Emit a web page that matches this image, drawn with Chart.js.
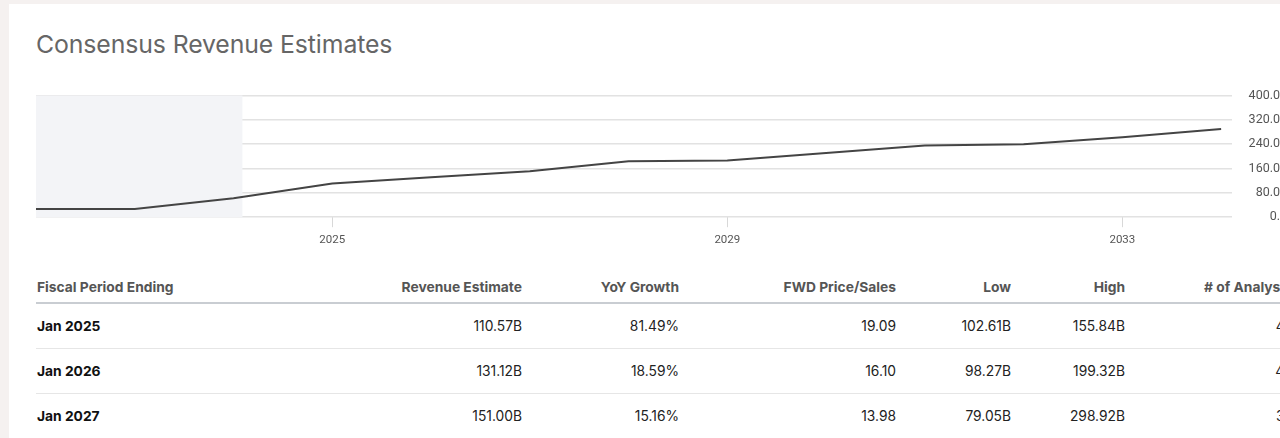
<!DOCTYPE html>
<html>
<head>
<meta charset="utf-8">
<script src="https://cdn.jsdelivr.net/npm/chart.js@4.4.1/dist/chart.umd.min.js"></script>
<style>
  html, body { margin: 0; padding: 0; }
  body { width: 1280px; height: 438px; overflow: hidden; background: #f5f1f0; position: relative; font-family: Inter, Roboto, "Liberation Sans", sans-serif; }
  #panel { position: absolute; left: 9px; top: 4px; width: 1400px; height: 460px; background: #fff; }
  #title { position: absolute; left: 36px; top: 29px; font-size: 24.8px; color: #666; font-weight: 400; letter-spacing: -0.1px; white-space: nowrap; }
  #chartWrap { position: absolute; left: 36px; top: 88px; width: 1244px; height: 165px; }
  table { position: absolute; left: 36px; top: 271px; border-collapse: collapse; table-layout: fixed; width: 1257px; }
  th, td { padding: 0; white-space: nowrap; font-size: 13.8px; }
  th { height: 31px; color: #555; font-weight: 700; border-bottom: 2px solid #c9cdd2; text-align: right; vertical-align: middle; }
  td { height: 44px; color: #222; border-bottom: 1px solid #e6e6e6; text-align: right; vertical-align: middle; }
  th:first-child, td:first-child { text-align: left; padding-left: 1px; }
  td:first-child { font-weight: 700; color: #111; }
</style>
</head>
<body>
<div id="panel"></div>
<div id="title">Consensus Revenue Estimates</div>
<div id="chartWrap"><canvas id="c"></canvas></div>
<table id="tbl">
  <colgroup>
    <col style="width:264px"><col style="width:222px"><col style="width:157px"><col style="width:217px"><col style="width:115px"><col style="width:114px"><col style="width:168px">
  </colgroup>
  <thead><tr id="hdr"></tr></thead>
  <tbody id="body"></tbody>
</table>
<script>
// ---- Data ----
const years = [2022, 2023, 2024, 2025, 2026, 2027, 2028, 2029, 2030, 2031, 2032, 2033, 2034];
const revenue = [27.0, 27.0, 62.0, 110.57, 131.12, 151.0, 183.5, 186.0, 211.0, 236.0, 240.0, 263.0, 290.0];
const xTickYears = [2025, 2029, 2033];
const yTickValues = [0, 80, 160, 240, 320, 400];
const yTickLabels = ["0.", "80.0", "160.0", "240.0", "320.0", "400.0"];
const historicalEnd = 2024.09;
const xMin = 2022, xMax = 2034.11;

const tableHeaders = ["Fiscal Period Ending", "Revenue Estimate", "YoY Growth", "FWD Price/Sales", "Low", "High", "# of Analysts"];
const periods = ["Jan 2025", "Jan 2026", "Jan 2027"];
const revEst = ["110.57B", "131.12B", "151.00B"];
const yoy = ["81.49%", "18.59%", "15.16%"];
const fwdPS = ["19.09", "16.10", "13.98"];
const lows = ["102.61B", "98.27B", "79.05B"];
const highs = ["155.84B", "199.32B", "298.92B"];
const analysts = ["42", "44", "33"];

// ---- Table ----
const hdr = document.getElementById('hdr');
tableHeaders.forEach(h => { const th = document.createElement('th'); th.textContent = h; hdr.appendChild(th); });
const body = document.getElementById('body');
periods.forEach((p, i) => {
  const tr = document.createElement('tr');
  [p, revEst[i], yoy[i], fwdPS[i], lows[i], highs[i], analysts[i]].forEach(v => {
    const td = document.createElement('td'); td.textContent = v; tr.appendChild(td);
  });
  body.appendChild(tr);
});

// ---- Chart ----
const shadePlugin = {
  id: 'shade',
  beforeDatasetsDraw(chart) {
    const { ctx, chartArea, scales } = chart;
    const x1 = scales.x.getPixelForValue(historicalEnd);
    ctx.save();
    ctx.fillStyle = '#f3f4f7';
    ctx.fillRect(chartArea.left, chartArea.top, x1 - chartArea.left, chartArea.bottom - chartArea.top);
    ctx.restore();
  }
};

new Chart(document.getElementById('c'), {
  type: 'line',
  data: {
    datasets: [{
      data: years.map((y, i) => ({ x: y, y: revenue[i] })),
      borderColor: '#444',
      borderWidth: 2,
      pointRadius: 0,
      tension: 0,
      fill: false
    }]
  },
  options: {
    responsive: true,
    maintainAspectRatio: false,
    animation: false,
    layout: { padding: 0 },
    plugins: { legend: { display: false }, tooltip: { enabled: false } },
    scales: {
      x: {
        type: 'linear',
        min: xMin, max: xMax,
        afterBuildTicks: (axis) => { axis.ticks = xTickYears.map(v => ({ value: v })); },
        ticks: {
          callback: (v) => String(v),
          color: '#555',
          font: { family: 'Roboto', size: 11.5 },
          padding: 6,
          maxRotation: 0
        },
        grid: { drawOnChartArea: false, drawTicks: true, tickLength: 10, color: '#d8d8d8' },
        border: { display: false }
      },
      y: {
        position: 'right',
        min: 0, max: 400,
        afterBuildTicks: (axis) => { axis.ticks = yTickValues.map(v => ({ value: v })); },
        afterFit: (axis) => { axis.width = 48; },
        ticks: {
          callback: (v) => yTickLabels[yTickValues.indexOf(v)],
          color: '#555',
          font: { family: 'Roboto', size: 12.5 },
          crossAlign: 'far',
          padding: 0
        },
        grid: { color: '#e2e2e2', lineWidth: 1.5, drawTicks: false },
        border: { display: false }
      }
    }
  },
  plugins: [shadePlugin]
});
</script>
</body>
</html>
